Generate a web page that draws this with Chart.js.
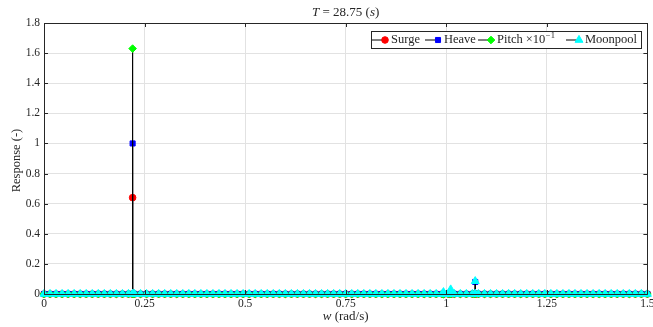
<!DOCTYPE html>
<html>
<head>
<meta charset="utf-8">
<script src="https://cdn.jsdelivr.net/npm/chart.js@4/dist/chart.umd.min.js"></script>
<style>
  html, body { margin: 0; padding: 0; background: #fff; }
  #c { display: block; }
</style>
</head>
<body>
<canvas id="c" width="653" height="327"></canvas>
<script>
// ---- Data ----
// frequency grid (rad/s) on which the responses are sampled
const freqGrid = [0,0.015,0.03,0.045,0.06,0.075,0.09,0.105,0.12,0.135,0.15,0.165,0.18,0.195,0.21,0.225,0.24,0.255,0.27,0.285,0.3,0.315,0.33,0.345,0.36,0.375,0.39,0.405,0.42,0.435,0.45,0.465,0.48,0.495,0.51,0.525,0.54,0.555,0.57,0.585,0.6,0.615,0.63,0.645,0.66,0.675,0.69,0.705,0.72,0.735,0.75,0.765,0.78,0.795,0.81,0.825,0.84,0.855,0.87,0.885,0.9,0.915,0.93,0.945,0.96,0.975,0.99,1.005,1.02,1.035,1.05,1.065,1.08,1.095,1.11,1.125,1.14,1.155,1.17,1.185,1.2,1.215,1.23,1.245,1.26,1.275,1.29,1.305,1.32,1.335,1.35,1.365,1.38,1.395,1.41,1.425,1.44,1.455,1.47,1.485,1.5];
// response away from the peaks (read as zero)
const offPeakResponse = 0;
// frequencies where a non-zero response appears (stems)
const peakFreqs    = [0.2203, 0.993, 1.011, 1.072];
const surgePeak    = [0.64,   0,     0,     0];
const heavePeak    = [1.0,    0,     0,     0.08];
const pitchPeak    = [1.63,   0,     0,     0];      // scaled x10^-1
const moonpoolPeak = [0,      0.012, 0.03,  0.085];

const seriesNames = ['Surge', 'Heave', 'Pitch \u00d710', 'Moonpool'];
const xTicks = [0, 0.25, 0.5, 0.75, 1, 1.25, 1.5];
const yTicks = [0, 0.2, 0.4, 0.6, 0.8, 1, 1.2, 1.4, 1.6, 1.8];
const titleParts = [['T', true], [' = 28.75 (', false], ['s', true], [')', false]];
const xTitleParts = [['w', true], [' (rad/s)', false]];
const yTitle = 'Response (-)';

// ---- build point tables ----
function buildSeries(peakVals) {
  const pts = [];
  const items = [];
  freqGrid.forEach(f => items.push({ f, peak: null }));
  peakFreqs.forEach((f, i) => items.push({ f, peak: peakVals[i] }));
  items.sort((a, b) => a.f - b.f);
  items.forEach(it => {
    if (it.peak === null) {
      pts.push({ x: it.f, y: offPeakResponse });
    } else {
      pts.push({ x: it.f, y: offPeakResponse });
      pts.push({ x: it.f, y: it.peak });
      pts.push({ x: it.f, y: offPeakResponse });
    }
  });
  return pts;
}

const FONT = '"Liberation Serif", "DejaVu Serif", serif';
const TXT = '#262626';

const styles = [
  { color: '#ff0000', style: 'circle',   r: 3.3 },
  { color: '#0000ff', style: 'rect',     r: 3.6 },
  { color: '#00ff00', style: 'rectRot',  r: 3.8 },
  { color: '#00ffff', style: 'triangle', r: 4.6 }
];
const peakSets = [surgePeak, heavePeak, pitchPeak, moonpoolPeak];

const datasets = peakSets.map((pv, i) => ({
  label: seriesNames[i],
  data: buildSeries(pv),
  showLine: true,
  borderColor: '#000000',
  borderWidth: 1,
  pointStyle: styles[i].style,
  pointRadius: styles[i].r,
  pointBackgroundColor: styles[i].color,
  pointBorderColor: styles[i].color,
  pointBorderWidth: 1,
  clip: false,
  order: 3 - i
}));

const CA = { left: 44, top: 23, right: 648, bottom: 294 };
const legendX = [372, 425, 478, 566];

function drawParts(ctx, parts, cx, cy, size) {
  let total = 0;
  const widths = parts.map(([t, it]) => {
    ctx.font = (it ? 'italic ' : '') + size + 'px ' + FONT;
    const w = ctx.measureText(t).width; total += w; return w;
  });
  let x = cx - total / 2;
  parts.forEach(([t, it], i) => {
    ctx.font = (it ? 'italic ' : '') + size + 'px ' + FONT;
    ctx.fillText(t, x, cy);
    x += widths[i];
  });
}

const decor = {
  id: 'decor',
  afterDatasetsDraw(chart) {
    const ctx = chart.ctx;
    const a = chart.chartArea;
    const xs = chart.scales.x, ys = chart.scales.y;
    ctx.save();
    // axes box
    ctx.strokeStyle = TXT;
    ctx.lineWidth = 1;
    ctx.beginPath();
    ctx.rect(Math.round(a.left) + 0.5, Math.round(a.top) + 0.5, Math.round(a.right - a.left), Math.round(a.bottom - a.top));
    ctx.stroke();
    // inward ticks
    const tl = 4;
    ctx.beginPath();
    xTicks.forEach(v => {
      const px = Math.round(xs.getPixelForValue(v)) + 0.5;
      ctx.moveTo(px, a.bottom); ctx.lineTo(px, a.bottom - tl);
      ctx.moveTo(px, a.top); ctx.lineTo(px, a.top + tl);
    });
    yTicks.forEach(v => {
      const py = Math.round(ys.getPixelForValue(v)) + 0.5;
      ctx.moveTo(a.left, py); ctx.lineTo(a.left + tl, py);
      ctx.moveTo(a.right, py); ctx.lineTo(a.right - tl, py);
    });
    ctx.stroke();

    // titles
    ctx.fillStyle = TXT;
    ctx.textBaseline = 'middle';
    ctx.textAlign = 'left';
    drawParts(ctx, titleParts, (a.left + a.right) / 2, 13, 13);
    drawParts(ctx, xTitleParts, (a.left + a.right) / 2, 317, 13);
    ctx.save();
    ctx.translate(17, (a.top + a.bottom) / 2 + 2);
    ctx.rotate(-Math.PI / 2);
    ctx.font = '12.5px ' + FONT;
    ctx.textAlign = 'center';
    ctx.fillText(yTitle, 0, 0);
    ctx.restore();

    // legend
    const lx0 = 371, ly0 = 31, lx1 = 641, ly1 = 48;
    ctx.fillStyle = '#ffffff';
    ctx.fillRect(lx0, ly0, lx1 - lx0, ly1 - ly0);
    ctx.strokeStyle = TXT;
    ctx.strokeRect(lx0 + 0.5, ly0 + 0.5, lx1 - lx0, ly1 - ly0);
    const cy = (ly0 + ly1) / 2 + 0.5;
    seriesNames.forEach((name, i) => {
      const x = legendX[i];
      ctx.strokeStyle = '#000';
      ctx.lineWidth = 1;
      ctx.beginPath();
      ctx.moveTo(x, cy); ctx.lineTo(x + 12, cy);
      ctx.stroke();
      ctx.fillStyle = styles[i].color;
      ctx.strokeStyle = styles[i].color;
      Chart.helpers.drawPoint(ctx, { pointStyle: styles[i].style, radius: styles[i].r, rotation: 0, borderWidth: 1 }, x + 13, cy);
      ctx.fillStyle = TXT;
      ctx.font = '12.5px ' + FONT;
      const tx = x + 19;
      ctx.fillText(name, tx, cy);
      if (i === 2) {
        const w = ctx.measureText(name).width;
        ctx.font = '8.5px ' + FONT;
        ctx.fillText('\u22121', tx + w + 0.5, cy - 4);
      }
    });
    ctx.restore();
  }
};

new Chart(document.getElementById('c'), {
  type: 'scatter',
  data: { datasets },
  plugins: [decor],
  options: {
    responsive: false,
    devicePixelRatio: 1,
    animation: false,
    events: [],
    layout: { padding: { left: 0, right: 653 - CA.right, top: CA.top, bottom: 0 } },
    plugins: { legend: { display: false }, tooltip: { enabled: false }, title: { display: false } },
    scales: {
      x: {
        type: 'linear', min: 0, max: 1.5,
        afterBuildTicks: s => { s.ticks = xTicks.map(v => ({ value: v })); },
        ticks: {
          color: TXT, font: { family: FONT, size: 11.5 }, padding: 3, maxRotation: 0, autoSkip: false,
          callback: v => String(v)
        },
        grid: { color: '#e2e2e2', lineWidth: 1, drawTicks: false },
        border: { display: false },
        afterFit: s => { s.height = 327 - CA.bottom; s.paddingLeft = 0; s.paddingRight = 0; }
      },
      y: {
        type: 'linear', min: 0, max: 1.8,
        afterBuildTicks: s => { s.ticks = yTicks.map(v => ({ value: v })); },
        ticks: {
          color: TXT, font: { family: FONT, size: 11.5 }, padding: 4, autoSkip: false,
          callback: v => String(Math.round(v * 10) / 10)
        },
        grid: { color: '#e2e2e2', lineWidth: 1, drawTicks: false },
        border: { display: false },
        afterFit: s => { s.width = CA.left; s.paddingTop = 0; s.paddingBottom = 0; }
      }
    }
  }
});
</script>
</body>
</html>
